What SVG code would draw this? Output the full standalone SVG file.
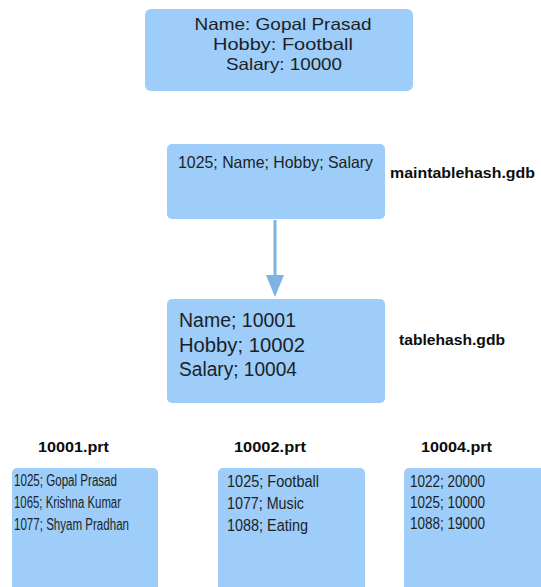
<svg xmlns="http://www.w3.org/2000/svg" width="541" height="587" viewBox="0 0 541 587">
<style>
.box{fill:#9dcdf8;}
.t{font-family:"Liberation Sans",Arial,sans-serif;fill:#1c1f26;}
.c{text-anchor:middle;font-size:16.5px;}
.b{font-family:"Liberation Sans",Arial,sans-serif;font-weight:bold;fill:#0d0d0d;font-size:15px;}
.m{font-size:16.5px;}
.l{font-size:19.5px;}
.s{font-size:16px;}
</style>
<rect width="541" height="587" fill="#ffffff"/>
<g id="record">
<rect class="box" x="145" y="9" width="268" height="82" rx="6"/>
<text class="t c" x="283" y="30" textLength="177" lengthAdjust="spacingAndGlyphs">Name: Gopal Prasad</text>
<text class="t c" x="283" y="50" textLength="140" lengthAdjust="spacingAndGlyphs">Hobby: Football</text>
<text class="t c" x="284" y="70" textLength="116" lengthAdjust="spacingAndGlyphs">Salary: 10000</text>
</g>
<g id="maintablehash">
<rect class="box" x="167" y="144" width="218" height="75" rx="5"/>
<text class="t m" x="178" y="168" textLength="195" lengthAdjust="spacingAndGlyphs">1025; Name; Hobby; Salary</text>
<text class="b" x="390" y="178" textLength="145" lengthAdjust="spacingAndGlyphs">maintablehash.gdb</text>
</g>
<g id="connectors">
<line x1="275" y1="220" x2="275" y2="282" stroke="#7db3e3" stroke-width="3"/>
<path d="M266,275 L275,297 L284,275 Z" fill="#7db3e3"/>
</g>
<g id="tablehash">
<rect class="box" x="167" y="299" width="218" height="104" rx="5"/>
<text class="t l" x="179" y="327" textLength="117" lengthAdjust="spacingAndGlyphs">Name; 10001</text>
<text class="t l" x="179" y="352" textLength="126" lengthAdjust="spacingAndGlyphs">Hobby; 10002</text>
<text class="t l" x="179" y="376" textLength="118" lengthAdjust="spacingAndGlyphs">Salary; 10004</text>
<text class="b" x="399" y="345" textLength="106" lengthAdjust="spacingAndGlyphs">tablehash.gdb</text>
</g>
<g id="prt10001">
<text class="b" x="38" y="452" textLength="71" lengthAdjust="spacingAndGlyphs">10001.prt</text>
<rect class="box" x="12" y="468" width="146" height="130" rx="5"/>
<text class="t s" x="14" y="486" textLength="103" lengthAdjust="spacingAndGlyphs">1025; Gopal Prasad</text>
<text class="t s" x="14" y="508" textLength="107" lengthAdjust="spacingAndGlyphs">1065; Krishna Kumar</text>
<text class="t s" x="14" y="530" textLength="115" lengthAdjust="spacingAndGlyphs">1077; Shyam Pradhan</text>
</g>
<g id="prt10002">
<text class="b" x="234" y="452" textLength="72" lengthAdjust="spacingAndGlyphs">10002.prt</text>
<rect class="box" x="218" y="468" width="147" height="130" rx="5"/>
<text class="t s" x="227" y="487" textLength="92" lengthAdjust="spacingAndGlyphs">1025; Football</text>
<text class="t s" x="227" y="509" textLength="77" lengthAdjust="spacingAndGlyphs">1077; Music</text>
<text class="t s" x="227" y="531" textLength="81" lengthAdjust="spacingAndGlyphs">1088; Eating</text>
</g>
<g id="prt10004">
<text class="b" x="421" y="452" textLength="71" lengthAdjust="spacingAndGlyphs">10004.prt</text>
<rect class="box" x="404" y="468" width="150" height="130" rx="5"/>
<text class="t s" x="410" y="487" textLength="75" lengthAdjust="spacingAndGlyphs">1022; 20000</text>
<text class="t s" x="410" y="508" textLength="75" lengthAdjust="spacingAndGlyphs">1025; 10000</text>
<text class="t s" x="410" y="529" textLength="75" lengthAdjust="spacingAndGlyphs">1088; 19000</text>
</g>
</svg>
